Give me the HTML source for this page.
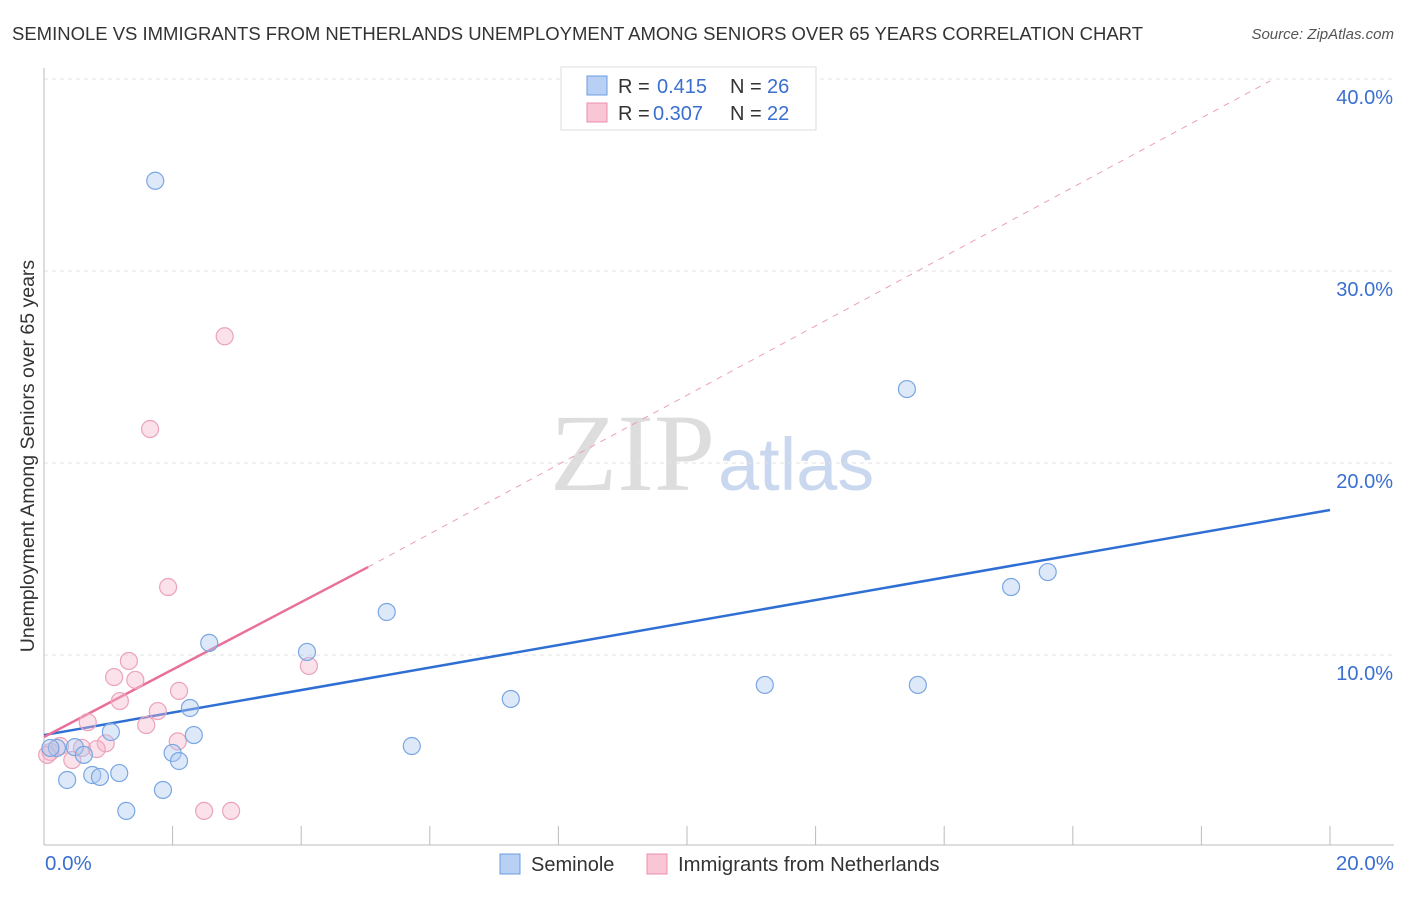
<!DOCTYPE html>
<html><head><meta charset="utf-8"><style>
body{margin:0;background:#fff;font-family:"Liberation Sans",sans-serif;}
svg text{font-family:"Liberation Sans",sans-serif;}
</style></head><body>
<svg id="c" width="1406" height="892" viewBox="0 0 1406 892" xmlns="http://www.w3.org/2000/svg">
<text x="12" y="40" font-size="18" fill="#333" textLength="1131" lengthAdjust="spacingAndGlyphs">SEMINOLE VS IMMIGRANTS FROM NETHERLANDS UNEMPLOYMENT AMONG SENIORS OVER 65 YEARS CORRELATION CHART</text>
<text x="1394" y="39" font-size="15" fill="#555" font-style="italic" text-anchor="end">Source: ZipAtlas.com</text>
<text x="715" y="490" font-size="110" fill="#ddd" text-anchor="end" style="font-family:'Liberation Serif',serif">ZIP</text>
<text x="718" y="490" font-size="74" fill="#c9d8ef">atlas</text>
<g id="grid"></g><g id="axes"></g><g id="trend"></g><g id="pts"></g>
<text x="34" y="456" font-size="19.5" fill="#333" text-anchor="middle" transform="rotate(-90 34 456)">Unemployment Among Seniors over 65 years</text>
<g>
<rect x="561" y="67" width="255" height="63" fill="#fff" stroke="#ddd"/>
<rect x="587" y="76" width="20" height="19" fill="#b8d0f4" stroke="#6a9be0"/>
<rect x="587" y="103" width="20" height="19" fill="#f9c6d6" stroke="#ec8fae"/>
<text x="618" y="93" font-size="20" fill="#333">R =</text><text x="657" y="93" font-size="20" fill="#3a6fd0">0.415</text>
<text x="730" y="93" font-size="20" fill="#333">N =</text><text x="767" y="93" font-size="20" fill="#3a6fd0">26</text>
<text x="618" y="120" font-size="20" fill="#333">R =</text><text x="653" y="120" font-size="20" fill="#3a6fd0">0.307</text>
<text x="730" y="120" font-size="20" fill="#333">N =</text><text x="767" y="120" font-size="20" fill="#3a6fd0">22</text>
</g>
<g>
<rect x="500" y="854" width="20" height="20" fill="#b8d0f4" stroke="#6a9be0"/>
<text x="531" y="871" font-size="20" fill="#333">Seminole</text>
<rect x="647" y="854" width="20" height="20" fill="#f9c6d6" stroke="#ec8fae"/>
<text x="678" y="871" font-size="20.3" fill="#333">Immigrants from Netherlands</text>
</g>
</svg>
<script>
const yTicks=[10,20,30,40];
const xTickLabels=["0.0%","20.0%"];
const blueX=[1.73,13.42,15.61,15.04,5.33,2.57,4.09,7.26,11.21,13.59,2.27,1.04,2.33,5.72,0.2,0.48,0.62,2.0,2.1,0.75,0.87,1.17,0.36,1.85,1.28,0.1];
const blueY=[34.7,23.85,14.32,13.54,12.24,10.63,10.16,7.71,8.44,8.44,7.24,5.99,5.83,5.26,5.16,5.2,4.8,4.9,4.48,3.75,3.65,3.85,3.49,2.97,1.88,5.16];
const pinkX=[2.81,1.65,1.93,1.32,4.12,1.09,1.42,2.1,1.18,1.77,0.68,1.59,2.08,0.96,0.59,0.82,0.25,0.44,0.1,2.49,2.91,0.05];
const pinkY=[26.6,21.77,13.54,9.69,9.43,8.85,8.7,8.13,7.6,7.08,6.5,6.35,5.5,5.4,5.16,5.1,5.26,4.53,4.95,1.88,1.88,4.8];
const blueTrend=[[0,5.83],[20,17.55]];
const pinkTrend=[[0,5.73],[5.04,14.58]];
const pinkDash=[[5.04,14.58],[19.07,39.9]];
const X=v=>44+v*64.3, Y=v=>847-v*19.2;
const NS="http://www.w3.org/2000/svg";
function mk(p,t,a){const e=document.createElementNS(NS,t);for(const k in a)e.setAttribute(k,a[k]);document.getElementById(p).appendChild(e);return e;}
yTicks.forEach(t=>{
 const l=mk('grid','line',{x1:44,x2:1394,y1:Y(t),y2:Y(t),stroke:'#e2e2e2','stroke-dasharray':'4,4'});
 
 
 const tx=mk('grid','text',{x:1393,y:Y(t)+25,'font-size':20,fill:'#3a6fd0','text-anchor':'end'});tx.textContent=t.toFixed(1)+'%';
 
 
});
let a=mk('axes','line',{x1:44,x2:44,y1:68,y2:845,stroke:'#bbb'});


a=mk('axes','line',{x1:44,x2:1394,y1:845,y2:845,stroke:'#bbb'});


for(let i=1;i<=10;i++){const t=mk('axes','line',{x1:X(i*2),x2:X(i*2),y1:826,y2:845,stroke:'#bbb'});
 
 }
[[0,'start',45],[20,'end',1394]].forEach((d,i)=>{const t=mk('axes','text',{x:d[2],y:870,'font-size':20.5,fill:'#3a6fd0','text-anchor':d[1]});t.textContent=xTickLabels[i];
 
 });
function ln(d,c,w,dash,name){const l=mk('trend','line',{x1:X(d[0][0]),y1:Y(d[0][1]),x2:X(d[1][0]),y2:Y(d[1][1]),stroke:c,'stroke-width':w});if(dash)l.setAttribute('stroke-dasharray',dash);
 
 }
ln(pinkDash,'#eaa0b8',1,'6,6','pink-trend-extension');
function pts(xs,ys,f,s,name){xs.forEach((x,i)=>{const c=mk('pts','circle',{cx:X(x),cy:Y(ys[i]),r:8.5,fill:f,stroke:s,'stroke-width':1.2});
 
 });}
pts(pinkX,pinkY,'rgba(246,180,202,0.4)','#eba3bb','immigrants-point');
pts(blueX,blueY,'rgba(170,200,240,0.4)','#7aa6e2','seminole-point');
ln(blueTrend,'#2f6fd4',2.5,null,'seminole-trend-line');
ln(pinkTrend,'#e8709a',2.5,null,'immigrants-trend-line');
</script>
</body></html>
